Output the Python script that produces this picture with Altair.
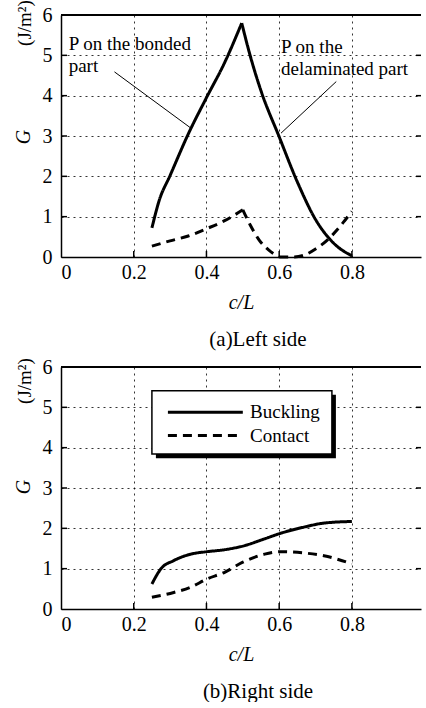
import altair as alt
import pandas as pd

FONT = "Liberation Serif"

# ---------------- data: (a) Left side ----------------
a_buck_up_c = [0.25, 0.27, 0.30, 0.35, 0.40, 0.45, 0.497]
a_buck_up_g = [0.72, 1.40, 2.02, 3.05, 3.95, 4.82, 5.80]
a_buck_dn_c = [0.497, 0.52, 0.55, 0.60, 0.65, 0.70, 0.75, 0.80]
a_buck_dn_g = [5.80, 5.00, 4.12, 2.98, 1.86, 0.93, 0.34, 0.03]
a_cont_up_c = [0.25, 0.30, 0.35, 0.40, 0.45, 0.50]
a_cont_up_g = [0.27, 0.40, 0.52, 0.70, 0.90, 1.17]
a_cont_dn_c = [0.50, 0.52, 0.545, 0.57, 0.60]
a_cont_dn_g = [1.17, 0.80, 0.42, 0.18, 0.0]
a_cont_re_c = [0.60, 0.64, 0.67, 0.70, 0.73, 0.76, 0.78, 0.80]
a_cont_re_g = [0.0, 0.0, 0.05, 0.20, 0.40, 0.68, 0.90, 1.13]

# ---------------- data: (b) Right side ----------------
b_buck_c = [0.25, 0.275, 0.31, 0.357, 0.40, 0.45, 0.50, 0.56, 0.605, 0.668, 0.723, 0.80]
b_buck_g = [0.62, 1.00, 1.20, 1.36, 1.42, 1.47, 1.56, 1.74, 1.88, 2.03, 2.13, 2.17]
b_cont_c = [0.25, 0.31, 0.357, 0.40, 0.45, 0.50, 0.56, 0.605, 0.668, 0.723, 0.80]
b_cont_g = [0.29, 0.41, 0.54, 0.74, 0.91, 1.16, 1.36, 1.42, 1.39, 1.32, 1.12]

x_ticks = [0, 0.2, 0.4, 0.6, 0.8]
y_ticks = [0, 1, 2, 3, 4, 5, 6]
series_names = ["Buckling", "Contact"]

# annotations (panel a)
ann_text = ["P on the bonded", "part", "P on the", "delaminated  part"]
ann_c = [0.021, 0.021, 0.605, 0.605]
ann_g = [5.13, 4.59, 5.07, 4.51]
lead_c1 = [0.147, 0.757]
lead_g1 = [4.59, 4.35]
lead_c2 = [0.358, 0.605]
lead_g2 = [3.19, 3.07]

# legend box (panel b)
leg_box = dict(c=0.250, c2=0.745, G=3.84, G2=5.41)
leg_shadow = dict(c=0.261, c2=0.756, G=3.74, G2=5.31)
leg_line_c1 = [0.294, 0.294]
leg_line_c2 = [0.500, 0.500]
leg_line_g = [4.88, 4.30]
leg_text_c = [0.52, 0.52]

W, H = 360, 242
xscale = alt.Scale(domain=[0, 0.99], nice=False, zero=False)
yscale = alt.Scale(domain=[0, 6], nice=False)

xaxis = alt.Axis(values=x_ticks, format=".1~f", title="c/L", titleFontStyle="italic",
                 titleFont=FONT, titleFontSize=20, titleFontWeight="normal", titleColor="black",
                 titlePadding=10, labelFont=FONT, labelFontSize=20, labelColor="black",
                 labelPadding=5, grid=True, gridDash=[2, 4], gridColor="black", gridOpacity=0.8,
                 ticks=False, domainColor="black", domainWidth=1.5)
yaxis = alt.Axis(values=y_ticks, format="d", title="", labelFont=FONT, labelFontSize=20,
                 labelColor="black", labelPadding=9, grid=True, gridDash=[2, 4],
                 gridColor="black", gridOpacity=0.8, ticks=False, domainColor="black",
                 domainWidth=1.5)


def X(field):
    return alt.X(field, type="quantitative", scale=xscale, axis=xaxis)


def Y(field):
    return alt.Y(field, type="quantitative", scale=yscale, axis=yaxis)


def lines_df(parts):
    rows = []
    for series, seg, cs, gs in parts:
        for c, g in zip(cs, gs):
            rows.append({"series": series, "seg": seg, "c": c, "G": g})
    return pd.DataFrame(rows)


def base_layers(df, ytitle_dy, gtitle_dy):
    main = alt.Chart(df).mark_line(color="black", strokeWidth=3, interpolate="monotone").encode(
        x=X("c"), y=Y("G"),
        strokeDash=alt.StrokeDash("series:N", scale=alt.Scale(domain=series_names,
                                  range=[[1, 0], [9, 6]]), legend=None),
        detail="seg:N",
    )
    tick_df = pd.DataFrame({"G": [1, 2, 3, 4, 5]})
    lt = alt.Chart(tick_df).mark_rule(color="black", strokeWidth=1.5).encode(
        y=Y("G"), x=alt.value(0), x2=alt.value(6))
    rt = alt.Chart(tick_df).mark_rule(color="black", strokeWidth=1.5).encode(
        y=Y("G"), x=alt.value(W - 5), x2=alt.value(W))
    xt_df = pd.DataFrame({"c": [0.2, 0.4, 0.6, 0.8]})
    bt = alt.Chart(xt_df).mark_rule(color="black", strokeWidth=1.5).encode(
        x=X("c"), y=alt.value(H - 6), y2=alt.value(H))
    top = alt.Chart(xt_df).mark_rule(color="black", strokeWidth=1.5).encode(
        y=alt.value(0), x=alt.value(0), x2=alt.value(W))
    yt1 = alt.Chart(pd.DataFrame({"t": ["(J/m²)"]})).mark_text(
        angle=270, font=FONT, fontSize=19, color="black", align="center", baseline="alphabetic"
    ).encode(text="t:N", x=alt.value(-30), y=alt.value(ytitle_dy))
    yt2 = alt.Chart(pd.DataFrame({"t": ["G"]})).mark_text(
        angle=270, font=FONT, fontSize=20, fontStyle="italic", color="black", align="center",
        baseline="alphabetic"
    ).encode(text="t:N", x=alt.value(-31), y=alt.value(gtitle_dy))
    return [main, lt, rt, bt, top, yt1, yt2]


def finish(layers, caption, offset):
    return alt.layer(*layers).properties(
        width=W, height=H,
        title=alt.TitleParams(caption, orient="bottom", font=FONT, fontSize=21,
                              fontWeight="normal", color="black", anchor="middle",
                              frame="group", offset=offset, dx=17),
    )


# ---- panel a ----
df_a = lines_df([
    ("Buckling", "b1", a_buck_up_c, a_buck_up_g),
    ("Buckling", "b2", a_buck_dn_c, a_buck_dn_g),
    ("Contact", "c1", a_cont_up_c, a_cont_up_g),
    ("Contact", "c2", a_cont_dn_c, a_cont_dn_g),
    ("Contact", "c3", a_cont_re_c, a_cont_re_g),
])
layers_a = base_layers(df_a, 8, 122)
ann_df = pd.DataFrame({"t": ann_text, "c": ann_c, "G": ann_g})
ann = alt.Chart(ann_df).mark_text(font=FONT, fontSize=19, color="black", align="left",
                                  baseline="alphabetic").encode(x=X("c"), y=Y("G"), text="t:N")
lead_df = pd.DataFrame({"c": lead_c1, "G": lead_g1, "c2": lead_c2, "G2": lead_g2})
lead = alt.Chart(lead_df).mark_rule(color="black", strokeWidth=1).encode(
    x=X("c"), y=Y("G"), x2="c2:Q", y2="G2:Q")
chart_a = finish(layers_a + [lead, ann], "(a)Left side", 17)

# ---- panel b ----
df_b = lines_df([
    ("Buckling", "b1", b_buck_c, b_buck_g),
    ("Contact", "c1", b_cont_c, b_cont_g),
])
layers_b = base_layers(df_b, 14, 120)
sh = alt.Chart(pd.DataFrame([leg_shadow])).mark_rect(color="black").encode(
    x=X("c"), x2="c2:Q", y=Y("G"), y2="G2:Q")
box = alt.Chart(pd.DataFrame([leg_box])).mark_rect(fill="white", stroke="black",
                                                    strokeWidth=1.5).encode(
    x=X("c"), x2="c2:Q", y=Y("G"), y2="G2:Q")
leg_df = pd.DataFrame({"series": series_names, "c": leg_line_c1, "c2": leg_line_c2,
                       "G": leg_line_g, "tc": leg_text_c})
leg_lines = alt.Chart(leg_df).mark_rule(color="black", strokeWidth=3).encode(
    x=X("c"), x2="c2:Q", y=Y("G"),
    strokeDash=alt.StrokeDash("series:N", scale=alt.Scale(domain=series_names,
                              range=[[1, 0], [9, 6]]), legend=None))
leg_text = alt.Chart(leg_df).mark_text(font=FONT, fontSize=19, color="black", align="left",
                                       baseline="middle").encode(
    x=X("tc"), y=Y("G"), text="series:N")
chart_b = finish(layers_b + [sh, box, leg_lines, leg_text], "(b)Right side", 17)

chart = alt.vconcat(chart_a, chart_b, spacing=7).configure_view(strokeWidth=0).properties(
    padding={"left": 14, "top": 0, "right": 0, "bottom": 0})

chart.save("out.html", embed_options={"renderer": "svg", "actions": False})
